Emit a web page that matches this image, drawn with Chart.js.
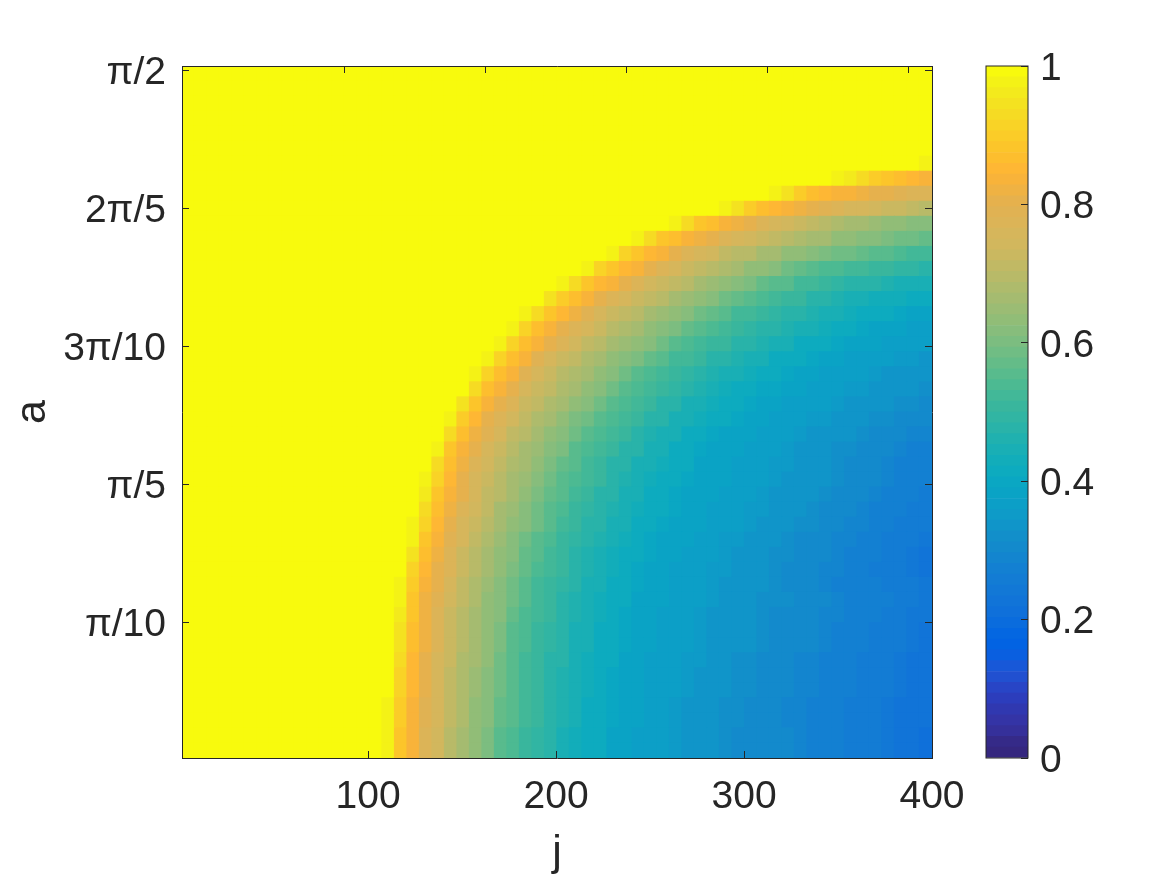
<!DOCTYPE html>
<html>
<head>
<meta charset="utf-8">
<title>j - a map</title>
<script src="https://cdn.jsdelivr.net/npm/chart.js@4/dist/chart.umd.min.js"></script>
<style>
  html, body { margin: 0; padding: 0; background: #fff; }
  #wrap { position: relative; width: 1167px; height: 875px; overflow: hidden; }
  #heat { position: absolute; left: 0; top: 0; }
  #bar { position: absolute; left: 970px; top: 0; }
</style>
</head>
<body>
<div id="wrap">
  <canvas id="heat" width="1167" height="875"></canvas>
  <canvas id="bar" width="197" height="875"></canvas>
</div>
<script>
// tick positions and labels
const jTicks = [100, 200, 300, 400];
const aTicks = [Math.PI / 10, Math.PI / 5, 3 * Math.PI / 10, 2 * Math.PI / 5, Math.PI / 2];
const aTickLabels = ['π/10', 'π/5', '3π/10', '2π/5', 'π/2'];
const barTicks = [0, 0.2, 0.4, 0.6, 0.8, 1];

// axis ranges
const jRange = [1, 400];
const aRange = [0.0046, 1.58];
const colCount = 60;

// values, in hundredths, rows from the bottom up.
// each row only lists its last columns, everything left of them sits at 1
const falloffRows = [
  [97,88,83,78,74,70,67,63,60,56,54,51,49,47,45,43,42,41,39,38,37,36,36,35,34,33,33,32,31,31,30,30,30,29,28,28,27,26,25,25,24,23,22,21],
  [97,88,83,78,74,70,67,63,60,56,54,51,49,47,45,43,42,41,39,38,37,36,36,35,34,33,33,32,31,31,30,30,30,29,28,28,27,26,25,25,24,23,22,21],
  [98,90,84,79,75,71,68,64,61,57,55,52,50,47,46,44,42,41,40,38,38,37,36,35,34,34,33,32,32,31,30,30,29,29,28,28,27,26,25,25,24,23,22,22],
  [98,90,84,79,75,71,68,64,61,57,55,52,50,47,46,44,42,41,40,38,38,37,36,35,34,34,33,32,32,31,30,30,29,29,28,28,27,26,25,25,24,23,22,22],
  [99,92,85,80,75,71,68,65,62,58,55,53,50,48,46,44,43,42,40,39,38,37,37,36,35,34,34,33,32,32,31,30,30,29,29,28,28,27,26,25,25,24,23,22],
  [99,92,85,80,75,71,68,65,62,58,55,53,50,48,46,44,43,42,40,39,38,37,37,36,35,34,34,33,32,32,31,30,30,29,29,28,28,27,26,25,25,24,23,22],
  [93,85,81,76,72,68,66,63,59,56,53,51,48,47,45,43,42,41,39,38,37,37,36,35,35,34,33,32,32,31,30,30,29,29,28,28,27,26,25,25,24,23,22],
  [94,86,82,77,72,69,66,63,60,56,54,51,49,47,45,44,42,41,40,39,38,37,36,36,35,34,34,33,33,32,31,31,30,30,29,28,28,27,26,25,25,24,23],
  [94,86,82,77,72,69,66,63,60,56,54,51,49,47,45,44,42,41,40,39,38,37,36,36,35,34,34,33,33,32,31,31,30,30,29,28,28,27,26,25,25,24,23],
  [96,88,82,78,73,70,67,64,61,57,54,52,50,47,46,44,43,41,40,39,38,37,37,36,35,34,34,33,33,32,31,31,31,30,29,29,28,27,27,26,25,24,24],
  [97,88,82,79,74,71,68,64,61,58,55,53,50,48,46,45,43,42,41,39,38,38,37,36,36,35,34,34,33,32,32,32,31,31,30,29,28,28,27,27,26,25,24],
  [98,90,84,80,75,71,68,65,62,59,55,53,51,49,47,45,44,42,41,40,39,38,37,36,36,35,34,34,33,33,32,31,30,30,29,28,28,27,27,26,25,25,24],
  [99,92,85,81,77,72,69,66,63,60,57,54,52,50,47,46,44,43,42,40,39,38,37,37,36,35,35,34,33,33,32,31,31,30,29,29,28,27,26,25,25,24,23],
  [94,86,82,78,73,70,67,64,61,57,55,53,50,48,46,45,43,42,41,40,39,38,37,36,36,35,34,34,33,32,32,31,30,30,29,28,27,27,26,25,24,23],
  [97,88,83,79,75,71,68,65,62,59,56,54,51,49,47,46,44,43,42,40,39,38,38,37,36,35,35,34,33,33,32,31,31,30,29,29,28,27,26,25,25,24],
  [98,91,85,80,76,72,69,66,64,61,58,55,53,50,48,47,45,44,42,41,40,39,38,38,37,36,36,35,34,34,33,32,32,31,30,29,29,28,27,26,25,25],
  [93,87,82,78,74,71,67,65,62,59,56,54,51,49,47,46,44,43,42,41,40,39,38,37,37,36,35,35,34,33,33,32,31,31,30,29,28,28,27,26,25],
  [96,88,83,80,75,71,69,66,63,60,57,55,53,50,48,47,45,44,42,41,40,39,38,38,37,36,36,35,34,34,33,33,32,31,30,30,29,28,27,27,26],
  [98,91,85,81,76,73,70,67,65,62,59,56,54,52,50,48,46,45,43,42,41,40,39,38,38,37,36,36,35,34,34,33,33,32,31,30,30,29,28,27,27],
  [99,93,87,82,78,74,71,68,66,63,60,57,55,53,50,48,47,45,44,43,42,41,39,39,38,37,37,36,35,35,34,33,33,32,31,31,30,29,28,28,27],
  [97,89,84,80,76,73,70,67,65,62,60,56,54,52,50,48,47,45,44,42,41,40,39,38,38,37,36,36,35,34,34,33,32,32,31,30,30,29,28,28],
  [99,93,87,82,79,75,71,69,66,64,61,58,56,54,52,50,48,46,45,44,42,41,40,39,38,38,37,36,36,35,34,34,33,33,32,31,31,30,29,29],
  [97,90,85,81,77,74,71,68,66,64,60,58,56,54,52,50,48,47,45,44,43,42,41,40,39,38,37,37,36,35,35,34,33,33,32,32,31,31,30],
  [95,88,83,80,77,73,71,68,66,64,61,58,56,54,52,50,48,47,45,44,43,42,41,40,39,38,37,37,36,36,35,34,34,33,33,32,32,31],
  [99,93,87,83,80,76,73,71,68,66,64,61,58,56,54,52,51,49,47,46,45,43,42,41,40,40,39,38,37,37,36,35,35,34,34,33,33,32],
  [97,91,86,83,79,75,72,70,68,66,64,61,58,56,54,52,51,49,47,46,45,44,43,42,41,40,39,38,37,37,36,36,35,34,34,33,33],
  [97,91,86,83,79,76,73,71,68,66,64,62,60,57,55,53,52,50,48,47,46,44,44,42,41,41,40,39,38,37,37,36,36,35,35,34],
  [97,92,86,83,80,77,74,71,69,67,65,63,61,58,56,54,53,51,50,48,47,46,44,44,42,42,41,40,39,38,38,37,37,36,36],
  [98,92,87,83,81,78,75,72,70,68,66,64,62,60,57,56,54,52,51,49,48,47,46,44,44,43,42,41,40,39,39,38,37,37],
  [98,93,88,85,82,79,76,73,71,69,67,65,63,61,59,57,55,53,52,51,49,48,47,46,44,44,43,42,41,41,40,39,38],
  [99,95,90,86,83,81,78,75,72,71,69,67,65,64,61,59,57,55,54,53,51,50,48,47,46,45,44,43,43,43,42,42],
  [98,93,89,85,83,80,77,74,72,71,69,67,65,64,62,60,57,56,55,53,52,51,49,48,48,47,46,45,45,44],
  [97,92,88,85,83,80,77,75,73,71,69,68,66,64,63,61,59,57,56,54,54,53,52,51,50,49,49,48],
  [97,92,88,85,83,81,78,76,74,71,70,69,67,66,64,63,62,60,59,58,57,56,55,54,53,53],
  [98,93,89,86,84,82,80,78,76,74,72,71,69,68,67,66,64,63,62,61,60,59,58,57],
  [99,97,93,89,86,84,82,80,78,76,74,72,71,70,68,67,66,65,64,63,62,61],
  [99,97,94,90,87,85,84,82,81,79,78,76,75,74,73,72,71,70],
  [99,97,94,90,87,85,84,83,82,81,80,79,78,77],
  [98,96,93,90,88,86,85,84],
  [99,98],
  [], [], [], [], [], []
];

// colour table of the bar, bottom to top
const parulaLevels = [
  '#35277f','#352a88','#35309a','#3434a6','#3038b0','#2c3dbc','#2845c6','#2150d0',
  '#1858d8','#0a5fe0','#0263e3','#0467e1','#0a6cdd','#0f70da','#1174d8','#1278d6',
  '#137cd4','#1380d2','#1385cf','#138acc','#128fca','#1095c9','#0e9bc8','#0c9fc7',
  '#0aa3c5','#0aa7c3','#0dabbf','#12adba','#19afb5','#20b1af','#29b3a9','#31b5a3',
  '#39b69d','#42b898','#4cba92','#58bb8d','#64bc88','#70bd84','#7cbd80','#87bd7c',
  '#91bd77','#9bbc74','#a5bb70','#aebb6c','#b8ba68','#c1b964','#cab860','#d2b75d',
  '#d6b65b','#dcb457','#e0b253','#e6b14d','#efb243','#f8b33a','#feb734','#fdbe2e',
  '#fcc52a','#fbcc28','#f9d326','#f6db23','#f4e220','#f3ea1c','#f4f216','#f8fa0d'
];

const inkColor = '#262626';
const tickFont = { family: '"Liberation Sans", Arial, sans-serif', size: 39 };
const titleFont = { family: '"Liberation Sans", Arial, sans-serif', size: 43, lineHeight: 1 };

function levelColor(v) {
  return parulaLevels[Math.min(parulaLevels.length - 1, Math.floor(v / 100 * parulaLevels.length))];
}

// one bar dataset per row, every column of the row is a floating bar
function buildRowDatasets() {
  const colWidth = (jRange[1] - jRange[0]) / colCount;
  const rowHeight = (aRange[1] - aRange[0]) / falloffRows.length;
  return falloffRows.map((falloff, row) => {
    const data = [];
    const colors = [];
    for (let c = 0; c < colCount; c++) {
      const v = c < colCount - falloff.length ? 100 : falloff[c - (colCount - falloff.length)];
      data.push({
        x: jRange[0] + colWidth * (c + 0.5),
        y: [aRange[0] + rowHeight * row, aRange[0] + rowHeight * (row + 1)],
        v: v
      });
      colors.push(levelColor(v));
    }
    return {
      data: data,
      backgroundColor: colors,
      borderWidth: 0,
      inflateAmount: 0.6,
      grouped: false,
      barPercentage: 1,
      categoryPercentage: 1
    };
  });
}

function fixedTicks(values) {
  return (scale) => { scale.ticks = values.map((value) => ({ value })); };
}

// 纵轴刻度文字下移几个像素
const nudgeLabels = {
  id: 'nudgeLabels',
  beforeDraw(chart) {
    chart.scales.y.getLabelItems().forEach((item) => { item.options.translation[1] += 3; });
  }
};

// z above the bars, otherwise the inward ticks get painted over
const tickGrid = { drawOnChartArea: false, tickLength: -7, tickColor: inkColor, tickWidth: 1, z: 1 };
const frameBorder = { display: true, color: inkColor, width: 1, z: 1 };

new Chart(document.getElementById('heat'), {
  type: 'bar',
  data: { datasets: buildRowDatasets() },
  options: {
    responsive: false,
    animation: false,
    events: [],
    plugins: { legend: { display: false }, tooltip: { enabled: false } },
    scales: {
      x: {
        type: 'linear',
        position: 'bottom',
        min: jRange[0],
        max: jRange[1],
        offset: false,
        grid: { ...tickGrid, offset: false },
        border: frameBorder,
        afterBuildTicks: fixedTicks(jTicks),
        afterFit: (scale) => { scale.height = 117; },
        ticks: { color: inkColor, font: tickFont, padding: 23, maxRotation: 0, autoSkip: false },
        title: { display: true, text: 'j', color: inkColor, font: titleFont, padding: 0 }
      },
      y: {
        type: 'linear',
        position: 'left',
        min: aRange[0],
        max: aRange[1],
        grid: tickGrid,
        border: frameBorder,
        afterBuildTicks: fixedTicks(aTicks),
        afterFit: (scale) => { scale.width = 182; },
        ticks: {
          color: inkColor,
          font: tickFont,
          padding: 23,
          autoSkip: false,
          callback: (value, index) => aTickLabels[index]
        },
        title: { display: true, text: 'a', color: inkColor, font: titleFont, padding: { top: 12, bottom: 0 } }
      },
      x2: {
        type: 'linear',
        position: 'top',
        min: jRange[0],
        max: jRange[1],
        grid: tickGrid,
        border: frameBorder,
        afterBuildTicks: fixedTicks(jTicks),
        afterFit: (scale) => { scale.height = 66; },
        ticks: { display: false }
      },
      y2: {
        type: 'linear',
        position: 'right',
        min: aRange[0],
        max: aRange[1],
        grid: tickGrid,
        border: frameBorder,
        afterBuildTicks: fixedTicks(aTicks),
        afterFit: (scale) => { scale.width = 235; },
        ticks: { display: false }
      }
    }
  },
  plugins: [nudgeLabels]
});

// 色条外框
const barFrame = {
  id: 'barFrame',
  afterDraw(chart) {
    const { ctx, chartArea: area } = chart;
    ctx.save();
    ctx.strokeStyle = inkColor;
    ctx.lineWidth = 1;
    ctx.strokeRect(area.left, area.top, area.right - area.left, area.bottom - area.top);
    ctx.restore();
  }
};

new Chart(document.getElementById('bar'), {
  type: 'bar',
  data: {
    labels: ['level'],
    datasets: parulaLevels.map((color) => ({
      data: [1 / parulaLevels.length],
      backgroundColor: color,
      borderWidth: 0,
      barPercentage: 1,
      categoryPercentage: 1
    }))
  },
  options: {
    responsive: false,
    animation: false,
    events: [],
    layout: { padding: { left: 16, top: 66 } },
    plugins: { legend: { display: false }, tooltip: { enabled: false } },
    scales: {
      x: {
        stacked: true,
        grid: { display: false },
        border: { display: false },
        ticks: { display: false },
        afterFit: (scale) => { scale.height = 117; }
      },
      y: {
        stacked: true,
        position: 'right',
        min: 0,
        max: 1,
        grid: tickGrid,
        border: { display: false },
        afterBuildTicks: fixedTicks(barTicks),
        afterFit: (scale) => { scale.width = 139; },
        ticks: { color: inkColor, font: tickFont, padding: 19, autoSkip: false, callback: (value) => String(value) }
      }
    }
  },
  plugins: [barFrame, nudgeLabels]
});
</script>
</body>
</html>
